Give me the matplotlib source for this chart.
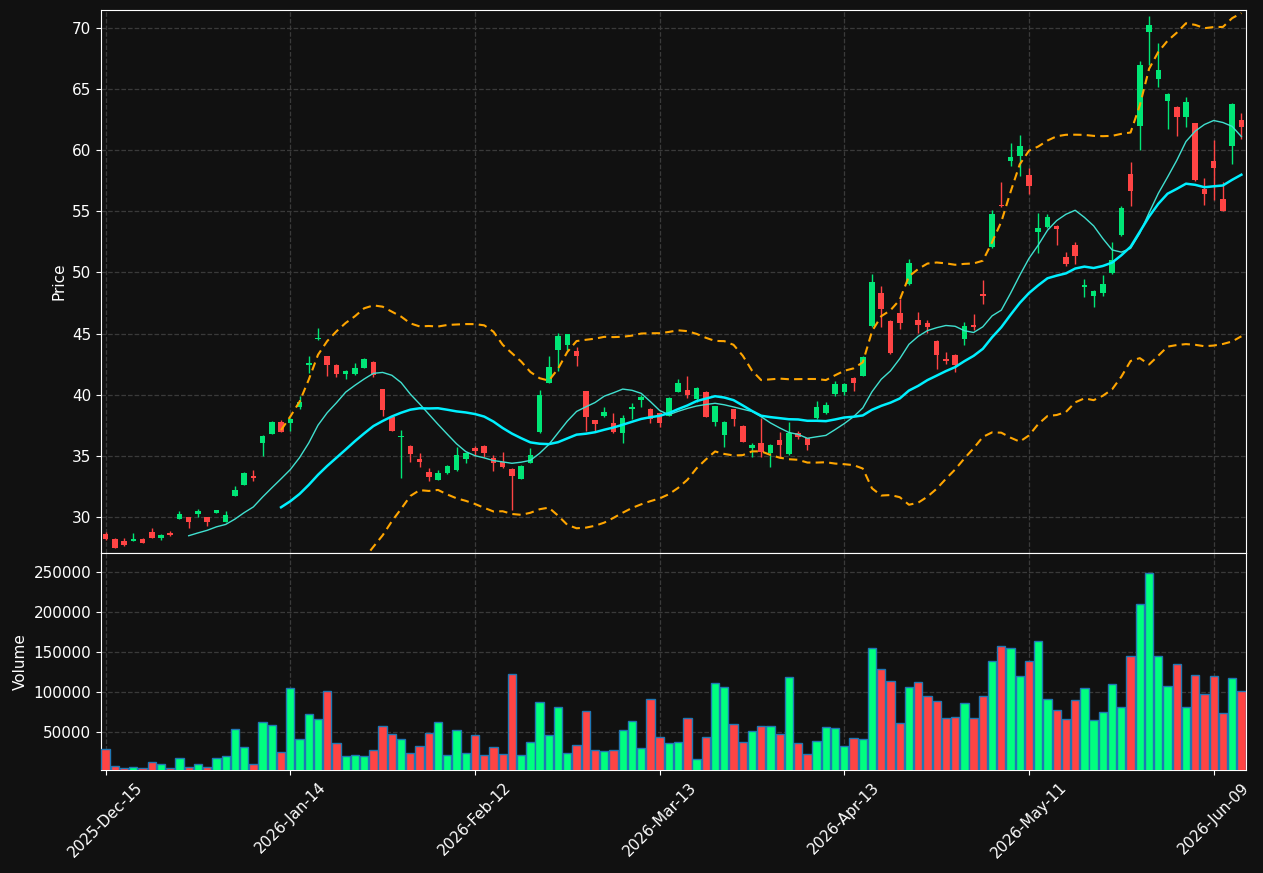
import numpy as np
import pandas as pd
import matplotlib
matplotlib.use("Agg")
import matplotlib.pyplot as plt

# ---------------- data ----------------
holidays = ["2025-12-25", "2026-01-01", "2026-01-19", "2026-02-16", "2026-04-03", "2026-05-25"]
start_date = "2025-12-15"
n_bars = 124

opens = [28.62, 28.21, 28.05, 28.07, 28.21, 28.81, 28.32, 28.73, 29.87, 30.01,
         30.28, 30.01, 30.31, 29.63, 31.75, 32.65, 33.37, 36.08, 36.82, 37.78,
         37.72, 39.03, 42.41, 44.54, 43.17, 42.44, 41.73, 41.70, 42.22, 42.68,
         40.47, 38.21, 36.55, 35.84, 34.75, 33.69, 33.06, 33.61, 33.85, 34.75,
         35.65, 35.84, 34.86, 34.53, 33.93, 33.12, 34.42, 36.96, 40.99, 43.67,
         44.07, 43.59, 40.30, 37.94, 38.26, 37.72, 36.88, 38.80, 39.57, 38.83,
         38.50, 38.29, 40.23, 40.39, 39.65, 40.23, 37.80, 36.71, 38.83, 37.47,
         35.68, 36.09, 35.28, 36.34, 35.13, 36.84, 36.43, 38.10, 38.50, 40.06,
         40.23, 41.37, 41.54, 45.62, 48.32, 46.03, 46.69, 49.05, 46.11, 45.87,
         44.40, 42.93, 43.26, 44.56, 45.70, 48.24, 52.09, 55.52, 59.11, 59.50,
         57.97, 53.31, 53.72, 53.80, 51.27, 52.25, 48.80, 48.08, 48.32, 49.96,
         53.07, 58.05, 61.98, 69.67, 65.82, 64.02, 63.53, 62.71, 62.22, 56.83,
         59.11, 56.01, 60.34, 62.46]
highs = [28.75, 28.27, 28.27, 28.68, 28.30, 29.11, 28.60, 28.87, 30.50, 30.05,
         30.64, 30.05, 30.60, 30.50, 32.54, 33.70, 33.85, 36.70, 37.85, 37.94,
         38.10, 39.93, 43.17, 45.46, 43.20, 42.50, 42.00, 42.60, 43.00, 42.78,
         40.50, 38.25, 37.12, 35.90, 35.22, 33.99, 33.85, 34.25, 35.71, 35.30,
         35.84, 35.90, 35.08, 35.30, 34.00, 34.25, 35.63, 40.39, 43.17, 45.03,
         45.00, 43.90, 40.35, 37.98, 38.98, 38.48, 38.35, 39.37, 39.95, 38.90,
         38.55, 39.80, 41.29, 41.54, 40.60, 40.28, 39.12, 37.82, 38.88, 37.50,
         36.10, 38.10, 35.98, 36.96, 37.78, 37.04, 36.50, 39.49, 39.40, 41.13,
         40.95, 41.42, 43.15, 49.85, 48.90, 46.08, 47.83, 51.10, 46.77, 46.11,
         44.45, 43.50, 43.30, 45.95, 46.60, 49.39, 55.11, 57.40, 60.60, 61.24,
         58.55, 54.87, 54.80, 53.90, 51.68, 52.49, 49.47, 48.60, 49.80, 52.49,
         55.40, 59.03, 67.29, 70.97, 68.77, 64.70, 63.60, 64.35, 62.25, 57.73,
         60.84, 57.40, 63.85, 63.04]
lows = [28.15, 27.45, 27.66, 28.05, 27.85, 28.30, 28.16, 28.50, 29.85, 29.08,
        29.98, 29.30, 30.30, 29.60, 31.70, 32.60, 32.97, 34.97, 36.80, 36.95,
        37.04, 38.81, 41.76, 44.50, 41.56, 41.48, 41.32, 41.65, 42.20, 41.48,
        38.29, 37.05, 33.22, 34.53, 34.12, 32.97, 33.00, 33.55, 33.80, 34.45,
        34.99, 34.94, 33.79, 34.05, 30.58, 33.10, 34.40, 36.90, 40.95, 41.98,
        43.67, 42.35, 37.01, 37.04, 38.20, 36.90, 36.04, 38.02, 38.98, 37.72,
        37.39, 38.25, 40.20, 39.71, 39.40, 38.15, 37.47, 35.76, 37.47, 36.12,
        34.94, 34.94, 34.12, 34.81, 35.10, 36.35, 35.52, 38.05, 38.45, 39.90,
        40.00, 40.31, 41.50, 45.55, 45.54, 43.35, 45.38, 49.00, 45.05, 45.05,
        42.11, 42.52, 41.86, 44.07, 45.30, 47.42, 52.00, 55.36, 58.71, 57.90,
        56.42, 51.60, 53.60, 52.25, 50.53, 50.69, 47.97, 47.16, 48.08, 49.90,
        53.00, 55.44, 60.02, 66.97, 65.17, 61.73, 61.16, 61.90, 57.50, 55.52,
        55.93, 55.00, 58.87, 60.92]
closes = [28.21, 27.50, 27.74, 28.21, 27.88, 28.32, 28.54, 28.54, 30.25, 29.63,
          30.50, 29.63, 30.58, 30.17, 32.22, 33.61, 33.23, 36.63, 37.78, 36.98,
          38.04, 39.41, 42.60, 44.65, 42.46, 41.70, 41.95, 42.19, 42.93, 41.62,
          38.78, 37.07, 36.66, 35.18, 34.50, 33.30, 33.61, 34.18, 35.08, 35.24,
          35.43, 35.27, 34.45, 34.10, 33.36, 34.20, 35.08, 39.98, 42.27, 44.81,
          44.97, 43.17, 38.20, 37.62, 38.59, 36.96, 38.10, 38.99, 39.78, 38.05,
          37.70, 39.74, 40.96, 40.00, 40.55, 38.20, 39.08, 37.78, 38.02, 36.16,
          35.93, 35.36, 35.93, 35.93, 36.84, 36.59, 35.93, 39.00, 39.16, 40.88,
          40.88, 40.96, 43.09, 49.22, 47.01, 43.42, 45.87, 50.77, 45.70, 45.54,
          43.26, 42.77, 42.44, 45.62, 45.54, 48.08, 54.79, 55.44, 59.44, 60.30,
          57.07, 53.64, 54.54, 53.56, 50.69, 51.35, 48.98, 48.49, 49.06, 51.02,
          55.28, 56.66, 66.96, 70.24, 66.56, 64.60, 62.71, 63.94, 57.56, 56.42,
          58.54, 55.03, 63.78, 61.90]
volumes = [28400, 7500, 4600, 5800, 4600, 12100, 10400, 4600, 17100, 5800,
           10400, 5800, 17100, 19600, 53300, 30800, 9600, 62100, 58300, 24600,
           104200, 40800, 72100, 65800, 100800, 35800, 19600, 20800, 19600, 27100,
           57100, 47100, 40800, 23300, 32100, 48300, 62100, 20800, 52100, 23300,
           45800, 20800, 30800, 22100, 122100, 20800, 37100, 87100, 45800, 80800,
           23300, 33300, 75800, 27100, 25800, 27100, 52100, 63300, 29600, 90800,
           43300, 35800, 37100, 67100, 15800, 43300, 110800, 105800, 59600, 37100,
           50800, 57100, 57100, 47100, 118300, 35800, 22100, 38300, 55800, 54600,
           32100, 42100, 40800, 154600, 128300, 113300, 60800, 105800, 112100, 94600,
           88300, 67100, 68300, 85800, 67100, 94600, 138300, 157100, 154600, 119600,
           138300, 163300, 90800, 77100, 65800, 89600, 104600, 64600, 74600, 109600,
           80800, 144600, 209600, 248300, 144600, 107100, 134600, 80800, 120800, 97100,
           119600, 73300, 117100, 101300]

tick_every = 20

# ---------------- styles ----------------
BG = "#111111"
UP_C = "#00e676"
DN_C = "#ff4444"
VUP_C = "#00ff7f"
VDN_C = "#ff4444"
GRID_C = "#3a3a3a"
TXT = "#ffffff"

cbd = pd.offsets.CustomBusinessDay(holidays=holidays)
dates = pd.date_range(start=start_date, periods=n_bars, freq=cbd)

df = pd.DataFrame({"Open": opens, "High": highs, "Low": lows, "Close": closes,
                   "Volume": volumes}, index=dates)
x = np.arange(len(df))
sma10 = df["Close"].rolling(10).mean()
sma20 = df["Close"].rolling(20).mean()
std20 = df["Close"].rolling(20).std(ddof=0)
upper = sma20 + 2 * std20
lower = sma20 - 2 * std20

up = df["Close"] >= df["Open"]
ccol = np.where(up, UP_C, DN_C)
vcol = np.where(up, VUP_C, VDN_C)

fig = plt.figure(figsize=(12.63, 8.73), dpi=100, facecolor=BG)
W, H = 1263, 873
L, R = 101, 1246
ax = fig.add_axes([L / W, (H - 553) / H, (R - L) / W, (553 - 10) / H], facecolor=BG)
axv = fig.add_axes([L / W, (H - 770) / H, (R - L) / W, (770 - 553) / H], facecolor=BG, sharex=ax)

# candles
ax.vlines(x, df["Low"], df["High"], colors=ccol, linewidth=1.0, zorder=2)
body_bottom = np.minimum(df["Open"], df["Close"])
body_h = np.maximum(np.abs(df["Close"] - df["Open"]), 0.04)
ax.bar(x, body_h, bottom=body_bottom, width=0.6, color=ccol, linewidth=0, zorder=3)

# indicators
ax.plot(x, sma10, color="#40e0d0", linewidth=1.0, zorder=4)
ax.plot(x, sma20, color="#00f0ff", linewidth=1.8, zorder=4)
ax.plot(x, upper, color="#ffa500", linewidth=1.5, linestyle=(0, (4, 2.5)), zorder=4)
ax.plot(x, lower, color="#ffa500", linewidth=1.5, linestyle=(0, (4, 2.5)), zorder=4)

ax.set_ylim(27.07, 71.45)
ax.set_xlim(-0.5, len(df) - 0.5)
ax.set_ylabel("Price", color=TXT, fontsize=11)

# volume
axv.bar(x, df["Volume"], width=0.9, color=vcol, edgecolor="#1f77b4", linewidth=1.0, zorder=3)
axv.set_ylim(2500, df["Volume"].max() * 1.1)
axv.set_ylabel("Volume", color=TXT, fontsize=11)
axv.set_yticks([50000, 100000, 150000, 200000, 250000])
axv.set_yticklabels(["50000", "100000", "150000", "200000", "250000"])

ticks = x[::tick_every]
axv.set_xticks(ticks)
axv.set_xticklabels([d.strftime("%Y-%b-%d") for d in dates[::tick_every]], rotation=45)
plt.setp(ax.get_xticklabels(), visible=False)

for a in (ax, axv):
    a.grid(True, color=GRID_C, linestyle="--", linewidth=0.9)
    a.set_axisbelow(True)
    a.tick_params(colors=TXT, labelsize=11)
    for s in a.spines.values():
        s.set_color(TXT)

fig.savefig("out.png", dpi=100, facecolor=BG)
